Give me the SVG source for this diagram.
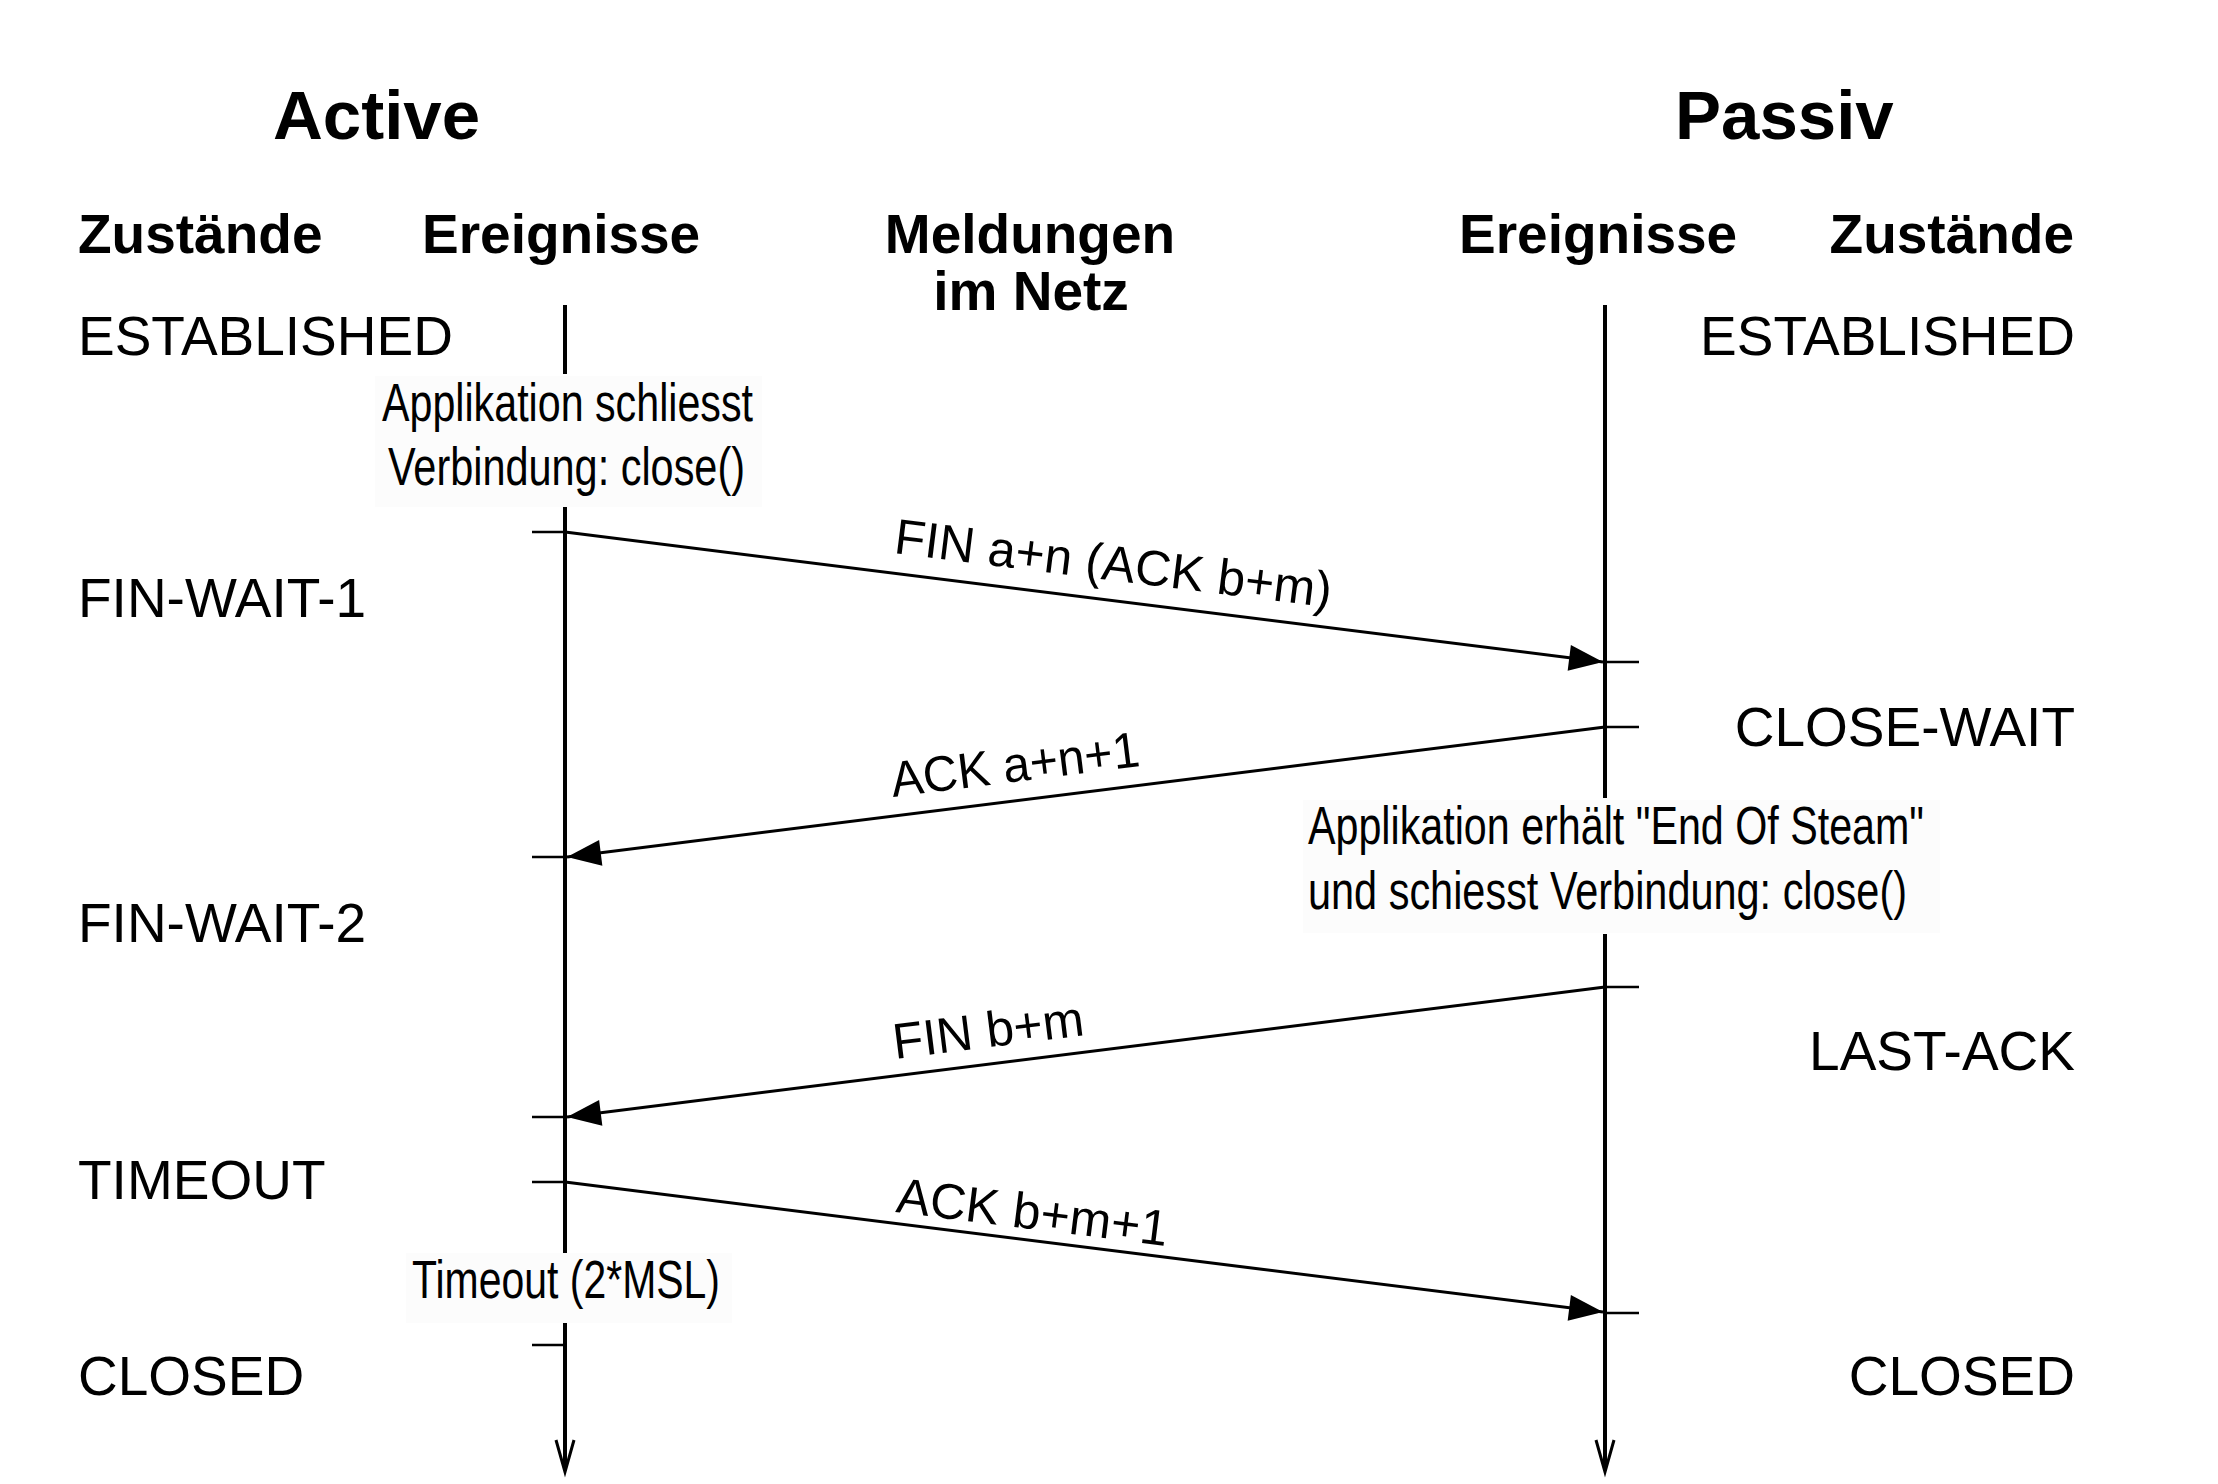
<svg xmlns="http://www.w3.org/2000/svg" width="2218" height="1484" viewBox="0 0 2218 1484">
<style>
  text { font-family: "Liberation Sans", Arial, sans-serif; fill: #000; }
  .title { font-size: 69px; font-weight: bold; }
  .head { font-size: 55px; font-weight: bold; }
  .state { font-size: 55px; }
  .event { font-family: "Liberation Sans Narrow", "Liberation Sans", Arial, sans-serif; font-size: 53px; }
  .label { font-size: 50px; }
  .life { stroke: #000; stroke-width: 4; fill: none; }
  .tick { stroke: #000; stroke-width: 2.5; fill: none; }
  .msg { stroke: #000; stroke-width: 3; fill: none; }
  .evbox { fill: #fcfcfc; stroke: none; }
</style>
<defs>
  <marker id="arr" markerUnits="userSpaceOnUse" markerWidth="40" markerHeight="30" viewBox="-36 -15 40 30" refX="0" refY="0" orient="auto">
    <path d="M0,0 L-34,-13 L-34,13 Z" fill="#000"/>
  </marker>
</defs>
<rect width="2218" height="1484" fill="#fff"/>

<g id="titles">
  <text class="title" x="273" y="139">Active</text>
  <text class="title" x="1675" y="139">Passiv</text>
</g>

<g id="headers">
  <text class="head" x="78" y="253">Zustände</text>
  <text class="head" x="422" y="253">Ereignisse</text>
  <text class="head" x="1030" y="253" text-anchor="middle">Meldungen</text>
  <text class="head" x="1031" y="310" text-anchor="middle">im Netz</text>
  <text class="head" x="1459" y="253">Ereignisse</text>
  <text class="head" x="2074" y="253" text-anchor="end">Zustände</text>
</g>

<g id="lifeline-active">
  <line class="life" x1="565" y1="305" x2="565" y2="374"/>
  <line class="life" x1="565" y1="507" x2="565" y2="1253"/>
  <line class="life" x1="565" y1="1323" x2="565" y2="1470"/>
  <path class="msg" d="M556,1440 L565,1472 L574,1440"/>
</g>

<g id="lifeline-passiv">
  <line class="life" x1="1605" y1="305" x2="1605" y2="798"/>
  <line class="life" x1="1605" y1="934" x2="1605" y2="1470"/>
  <path class="msg" d="M1596,1440 L1605,1472 L1614,1440"/>
</g>

<g id="ticks">
  <line class="tick" x1="532" y1="532" x2="565" y2="532"/>
  <line class="tick" x1="532" y1="857" x2="565" y2="857"/>
  <line class="tick" x1="532" y1="1117" x2="565" y2="1117"/>
  <line class="tick" x1="532" y1="1182" x2="565" y2="1182"/>
  <line class="tick" x1="532" y1="1345" x2="565" y2="1345"/>
  <line class="tick" x1="1605" y1="662" x2="1639" y2="662"/>
  <line class="tick" x1="1605" y1="727" x2="1639" y2="727"/>
  <line class="tick" x1="1605" y1="987" x2="1639" y2="987"/>
  <line class="tick" x1="1605" y1="1313" x2="1639" y2="1313"/>
</g>

<g id="states-active">
  <text class="state" x="78" y="355">ESTABLISHED</text>
  <text class="state" x="78" y="617">FIN-WAIT-1</text>
  <text class="state" x="78" y="942">FIN-WAIT-2</text>
  <text class="state" x="78" y="1199">TIMEOUT</text>
  <text class="state" x="78" y="1395">CLOSED</text>
</g>

<g id="states-passiv">
  <text class="state" x="2075" y="355" text-anchor="end">ESTABLISHED</text>
  <text class="state" x="2075" y="746" text-anchor="end">CLOSE-WAIT</text>
  <text class="state" x="2075" y="1070" text-anchor="end">LAST-ACK</text>
  <text class="state" x="2075" y="1395" text-anchor="end">CLOSED</text>
</g>

<g id="event-close-active">
  <rect class="evbox" x="375" y="376" width="387" height="131"/>
  <text class="event" x="382" y="421" textLength="371" lengthAdjust="spacingAndGlyphs">Applikation schliesst</text>
  <text class="event" x="388" y="485" textLength="357" lengthAdjust="spacingAndGlyphs">Verbindung: close()</text>
</g>

<g id="event-close-passiv">
  <rect class="evbox" x="1303" y="800" width="637" height="133"/>
  <text class="event" x="1308" y="844" textLength="616" lengthAdjust="spacingAndGlyphs">Applikation erhält "End Of Steam"</text>
  <text class="event" x="1308" y="909" textLength="599" lengthAdjust="spacingAndGlyphs">und schiesst Verbindung: close()</text>
</g>

<g id="event-timeout">
  <rect class="evbox" x="406" y="1253" width="326" height="70"/>
  <text class="event" x="412" y="1298" textLength="308" lengthAdjust="spacingAndGlyphs">Timeout (2*MSL)</text>
</g>

<g id="connectors">
  <line class="msg" x1="565" y1="532" x2="1603" y2="662" marker-end="url(#arr)"/>
  <line class="msg" x1="1605" y1="727" x2="567" y2="857" marker-end="url(#arr)"/>
  <line class="msg" x1="1605" y1="987" x2="567" y2="1117" marker-end="url(#arr)"/>
  <line class="msg" x1="565" y1="1182" x2="1603" y2="1312" marker-end="url(#arr)"/>
</g>

<g id="labels">
  <text class="label" transform="translate(893,553) rotate(7.125)" textLength="440" lengthAdjust="spacingAndGlyphs">FIN a+n (ACK b+m)</text>
  <text class="label" transform="translate(893,797) rotate(-7.125)" textLength="250" lengthAdjust="spacingAndGlyphs">ACK a+n+1</text>
  <text class="label" transform="translate(895,1059) rotate(-7.125)" textLength="192" lengthAdjust="spacingAndGlyphs">FIN b+m</text>
  <text class="label" transform="translate(895,1212) rotate(7.125)" textLength="273" lengthAdjust="spacingAndGlyphs">ACK b+m+1</text>
</g>
</svg>
